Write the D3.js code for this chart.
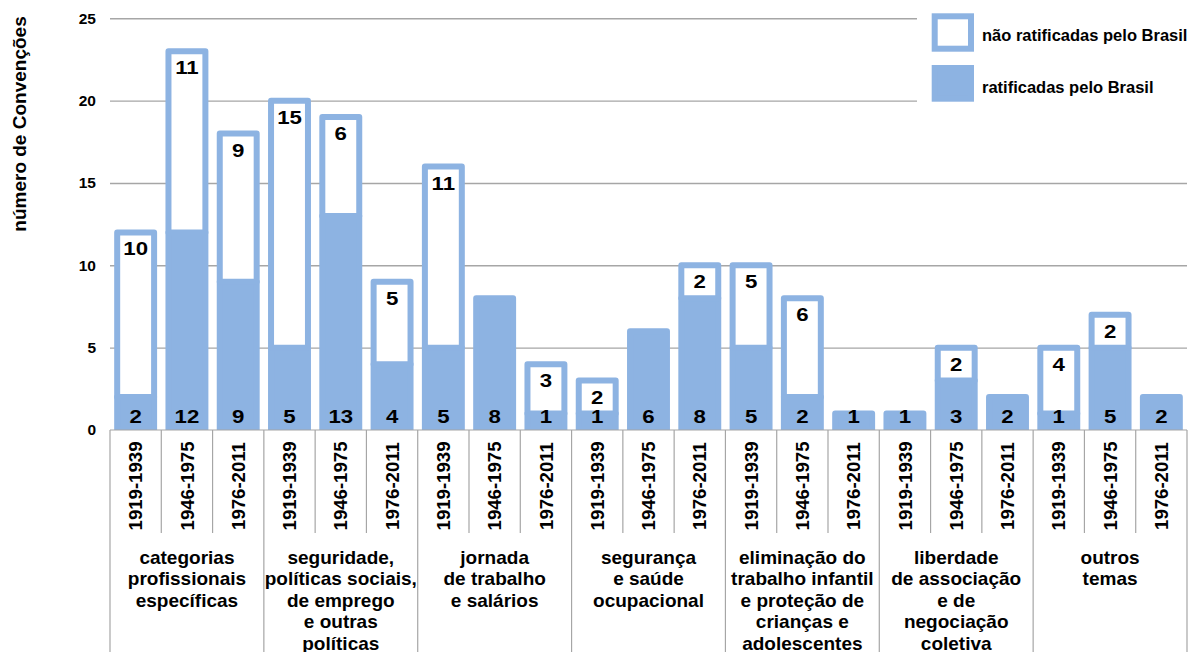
<!DOCTYPE html>
<html>
<head>
<meta charset="utf-8">
<script src="https://cdn.jsdelivr.net/npm/d3@7"></script>
<style>
  html, body { margin: 0; padding: 0; background: #fff; }
  svg { display: block; font-family: "Liberation Sans", Arial, sans-serif; font-weight: bold; }
</style>
</head>
<body>
<svg id="chart" width="1191" height="652"></svg>
<script>
// Theme groups (label lines) and the three periods inside each group
const groupLines = [
  ["categorias", "profissionais", "específicas"],
  ["seguridade,", "políticas sociais,", "de emprego", "e outras", "políticas"],
  ["jornada", "de trabalho", "e salários"],
  ["segurança", "e saúde", "ocupacional"],
  ["eliminação do", "trabalho infantil", "e proteção de", "crianças e", "adolescentes"],
  ["liberdade", "de associação", "e de", "negociação", "coletiva"],
  ["outros", "temas"]
];
const periods = ["1919-1939", "1946-1975", "1976-2011"];

// Conventions ratified / not ratified by Brazil, per group and period
const ratified    = [2, 12, 9,  5, 13, 4,  5, 8, 1,  1, 6, 8,  5, 2, 1,  1, 3, 2,  1, 5, 2];
const notRatified = [10, 11, 9, 15, 6, 5, 11, 0, 3,  2, 0, 2,  5, 6, 0,  0, 2, 0,  4, 2, 0];

const yTicks = [0, 5, 10, 15, 20, 25];
const yTitle = "número de Convenções";
const legendLabels = ["não ratificadas pelo Brasil", "ratificadas pelo Brasil"];

const BLUE = "#8db3e2";
const GRID = "#a6a6a6";
const STROKE = 6;

const rows = ratified.map((r, i) => ({
  i, group: Math.floor(i / periods.length), period: periods[i % periods.length],
  r, n: notRatified[i]
}));

const svg = d3.select("#chart");
const left = 110, right = 1187, base = 430;

const x = d3.scaleBand().domain(d3.range(rows.length))
  .range([left, right]).paddingInner(0.28).paddingOuter(0.14);
const y = d3.scaleLinear().domain([0, 25]).range([base, 18.3]);
const step = x.step();
const slotLeft = k => left + k * step;

// gridlines
svg.append("g")
  .attr("transform", `translate(${left},0)`)
  .call(d3.axisLeft(y).tickValues(yTicks.filter(t => t > 0)).tickSize(-(right - left)).tickFormat(""))
  .call(g => g.select(".domain").remove())
  .call(g => g.selectAll("line").attr("stroke", GRID).attr("stroke-width", 1.4));

// y tick labels
svg.append("g")
  .attr("transform", `translate(96,0)`)
  .call(d3.axisLeft(y).tickValues(yTicks).tickSize(0).tickPadding(0))
  .call(g => g.select(".domain").remove())
  .call(g => g.selectAll("text")
    .attr("fill", "#000").attr("font-size", 15.5).attr("font-weight", "bold")
    .attr("font-family", "Liberation Sans, Arial, sans-serif"));

// y axis title
svg.append("text")
  .attr("transform", `translate(26,124) rotate(-90)`)
  .attr("text-anchor", "middle")
  .attr("font-size", 19)
  .attr("fill", "#000")
  .text(yTitle);

// bars, clipped at the baseline
svg.append("clipPath").attr("id", "plotClip")
  .append("rect").attr("x", 0).attr("y", 0).attr("width", 1191).attr("height", base);

const bars = svg.append("g").attr("clip-path", "url(#plotClip)");
const bw = x.bandwidth();

bars.selectAll("rect.rat").data(rows).join("rect")
  .attr("class", "rat")
  .attr("x", d => x(d.i)).attr("width", bw)
  .attr("y", d => y(d.r)).attr("height", d => y(0) - y(d.r))
  .attr("fill", BLUE).attr("stroke", BLUE)
  .attr("stroke-width", STROKE).attr("stroke-linejoin", "round");

bars.selectAll("rect.non").data(rows.filter(d => d.n > 0)).join("rect")
  .attr("class", "non")
  .attr("x", d => x(d.i)).attr("width", bw)
  .attr("y", d => y(d.r + d.n)).attr("height", d => y(d.r) - y(d.r + d.n))
  .attr("fill", "#fff").attr("stroke", BLUE)
  .attr("stroke-width", STROKE).attr("stroke-linejoin", "round");

// value labels
const labelSize = 17.5, labelStretch = 1.27;
svg.append("g").selectAll("text").data(rows).join("text")
  .attr("transform", d => `translate(${x(d.i) + bw / 2},${base - 7}) scale(${labelStretch},1)`)
  .attr("text-anchor", "middle").attr("font-size", labelSize).attr("fill", "#000")
  .text(d => d.r);

svg.append("g").selectAll("text").data(rows.filter(d => d.n > 0)).join("text")
  .attr("transform", d => `translate(${x(d.i) + bw / 2},${y(d.r + d.n) + 23}) scale(${labelStretch},1)`)
  .attr("text-anchor", "middle").attr("font-size", labelSize).attr("fill", "#000")
  .text(d => d.n);

// legend
const lg = svg.append("g");
lg.append("rect").attr("x", 917).attr("y", 0).attr("width", 274).attr("height", 116).attr("fill", "#fff");
lg.append("rect").attr("x", 934.7).attr("y", 16.3).attr("width", 36.3).attr("height", 32.4)
  .attr("fill", "#fff").attr("stroke", BLUE).attr("stroke-width", STROKE);
lg.append("rect").attr("x", 934.7).attr("y", 68).attr("width", 36.3).attr("height", 30.7)
  .attr("fill", BLUE).attr("stroke", BLUE).attr("stroke-width", STROKE);
lg.selectAll("text.leg").data(legendLabels).join("text")
  .attr("class", "leg")
  .attr("x", 982).attr("y", (d, i) => i === 0 ? 40.7 : 92.6)
  .attr("font-size", 16.5).attr("fill", "#000")
  .text(d => d);

// category axis: baseline and separators
const ax = svg.append("g").attr("stroke", GRID).attr("stroke-width", 1.2);
ax.append("line").attr("x1", left).attr("x2", right).attr("y1", base).attr("y2", base);
d3.range(rows.length + 1).forEach(k => {
  const isGroup = k % periods.length === 0;
  ax.append("line")
    .attr("x1", slotLeft(k)).attr("x2", slotLeft(k))
    .attr("y1", base).attr("y2", isGroup ? 652 : 533);
});

// period labels
svg.append("g").selectAll("text").data(rows).join("text")
  .attr("transform", d => `translate(${x(d.i) + bw / 2},486) rotate(-90)`)
  .attr("text-anchor", "middle").attr("dy", "0.355em")
  .attr("font-size", 18.6).attr("fill", "#000")
  .text(d => d.period);

// group labels
const gl = svg.append("g").selectAll("text").data(groupLines).join("text")
  .attr("text-anchor", "middle").attr("font-size", 19).attr("fill", "#000")
  .attr("transform", (d, g) => `translate(${slotLeft(g * 3) + 1.5 * step},0)`);
gl.selectAll("tspan").data(d => d).join("tspan")
  .attr("x", 0).attr("y", (d, j) => 563.5 + j * 21.5)
  .text(d => d);
</script>
</body>
</html>
